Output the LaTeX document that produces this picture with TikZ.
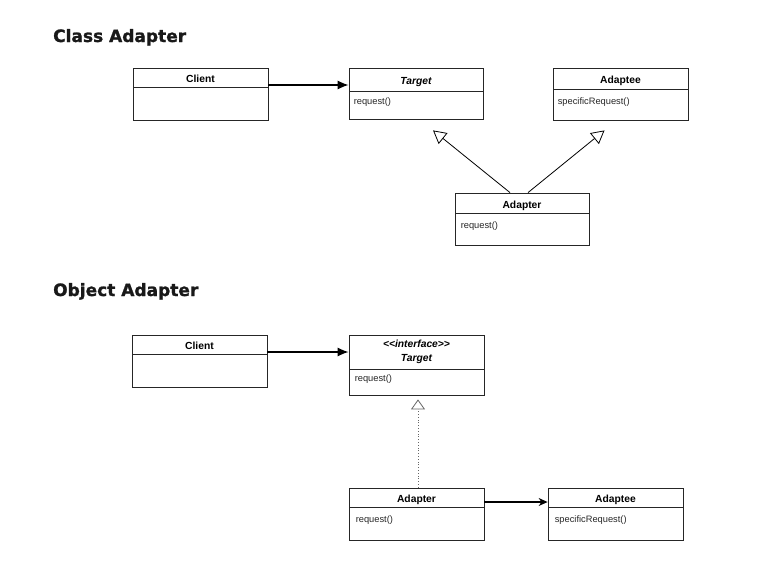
\documentclass[tikz,border=0pt]{standalone}
\usepackage{fontspec}
\setmainfont{Liberation Sans}
\newfontfamily\titlefont[BoldFeatures={FakeBold=1.2}]{DejaVu Sans}
\usetikzlibrary{arrows.meta}
\tikzset{
  boxline/.style={draw=black!85, line width=0.8pt},
  hdr/.style={boxline, minimum width=135pt, inner sep=0pt, font=\bfseries\fontsize{10.3}{11.5}\selectfont, align=center},
  oneline/.style={text height=10pt, text depth=0pt},
  bodybox/.style={boxline, minimum width=135pt, inner sep=0pt},
  op/.style={anchor=west, inner sep=0pt, font=\fontsize{9.3}{10}\selectfont, text=black!85},
  ttl/.style={anchor=base west, inner sep=0pt, font=\titlefont\bfseries\fontsize{17}{20}\selectfont, text=black!90},
  assoc/.style={line width=1.3pt, -{Latex[length=11pt,width=9pt]}},
  assocb/.style={line width=1.1pt, -{Stealth[length=9pt,width=8pt]}},
  gen/.style={line width=0.8pt, -{Triangle[open,length=13pt,width=14pt,line width=0.8pt]}},
  real/.style={line width=0.8pt, dotted, draw=black!60, -{Triangle[open,length=10pt,width=14pt,line width=0.8pt,sep=0pt]}},
}
\begin{document}
\begin{tikzpicture}[x=1pt,y=-1pt]
\useasboundingbox (0,0) rectangle (762,570);

% ---------- Class Adapter ----------
\node[ttl] (t1) at (53,42) {Class Adapter};

\node[hdr, oneline, minimum height=19pt] (clienth) at (200.5,77.5) {Client};
\node[bodybox, minimum height=33pt] (clientb) at (200.5,103.5) {};

\node[hdr, oneline, minimum height=23pt, minimum width=134pt] (targeth) at (416,79.5) {\itshape Target};
\node[bodybox, minimum height=28pt, minimum width=134pt] (targetb) at (416,105) {};
\node[op] (targetop) at ([xshift=5pt,yshift=-11pt]targetb.north west) {request()};

\node[hdr, oneline, minimum height=21pt] (adapteeh) at (620.5,78.5) {Adaptee};
\node[bodybox, minimum height=31pt] (adapteeb) at (620.5,104.5) {};
\node[op] (adapteeop) at ([xshift=5pt,yshift=-13pt]adapteeb.north west) {specificRequest()};

\node[hdr, oneline, minimum height=20pt, minimum width=134pt] (adapterh) at (522,203) {Adapter};
\node[bodybox, minimum height=32pt, minimum width=134pt] (adapterb) at (522,229) {};
\node[op] (adapterop) at ([xshift=6pt,yshift=-13pt]adapterb.north west) {request()};

\coordinate (g1) at ([xshift=17pt,yshift=-11pt]targetb.south);
\coordinate (g2) at ([xshift=-16pt,yshift=-10pt]adapteeb.south);

\draw[assoc] ([yshift=-7.5pt]clienth.east) -- ([yshift=-5.5pt]targeth.west);
\draw[gen] ([xshift=-12pt]adapterh.north) -- (g1);
\draw[gen] ([xshift=6pt]adapterh.north) -- (g2);

% ---------- Object Adapter ----------
\node[ttl] (t2) at (53,296) {Object Adapter};

\node[hdr, oneline, minimum height=19pt] (client2h) at (199.5,344.5) {Client};
\node[bodybox, minimum height=33pt] (client2b) at (199.5,370.5) {};

\node[hdr, minimum height=34pt] (target2h) at (416.5,352) {\itshape {<}{<}interface{>}{>}\\[2.5pt]\itshape Target};
\node[bodybox, minimum height=26pt] (target2b) at (416.5,382) {};
\node[op] (target2op) at ([xshift=6pt,yshift=-10pt]target2b.north west) {request()};

\node[hdr, oneline, minimum height=19pt] (adapter2h) at (416.5,497.5) {Adapter};
\node[bodybox, minimum height=33pt] (adapter2b) at (416.5,523.5) {};
\node[op] (adapter2op) at ([xshift=7pt,yshift=-13pt]adapter2b.north west) {request()};

\node[hdr, oneline, minimum height=19pt] (adaptee2h) at (615.5,497.5) {Adaptee};
\node[bodybox, minimum height=33pt] (adaptee2b) at (615.5,523.5) {};
\node[op] (adaptee2op) at ([xshift=7pt,yshift=-13pt]adaptee2b.north west) {specificRequest()};

\coordinate (g3) at ([xshift=1.5pt,yshift=-4pt]target2b.south);

\draw[assoc] ([yshift=-7.5pt]client2h.east) -- (target2h.west);
\draw[real] ([xshift=1.5pt]adapter2h.north) -- (g3);
\draw[assocb] ([yshift=-4.5pt]adapter2h.east) -- ([yshift=-4.5pt]adaptee2h.west);
\end{tikzpicture}
\end{document}
